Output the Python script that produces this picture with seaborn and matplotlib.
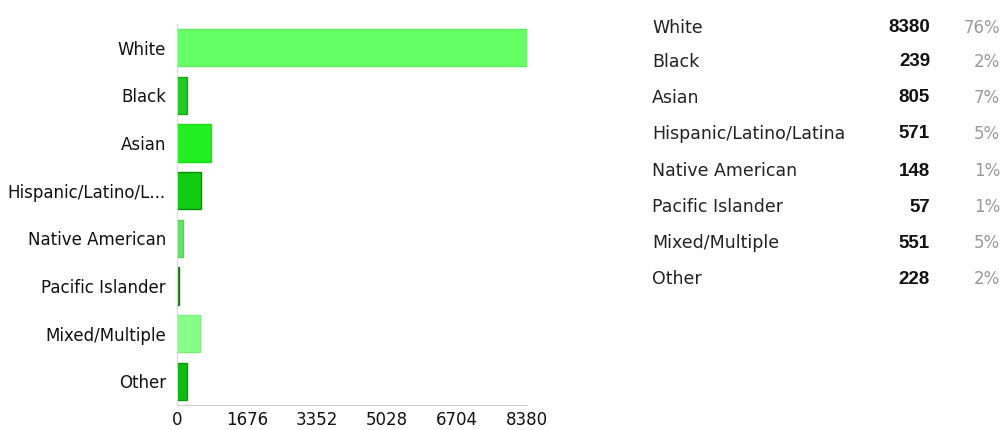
import matplotlib
matplotlib.use("Agg")
import matplotlib.pyplot as plt
import seaborn as sns
import pandas as pd

categories = ["White", "Black", "Asian", "Hispanic/Latino/Latina", "Native American",
              "Pacific Islander", "Mixed/Multiple", "Other"]
axis_labels = ["White", "Black", "Asian", "Hispanic/Latino/L...", "Native American",
               "Pacific Islander", "Mixed/Multiple", "Other"]
counts = [8380, 239, 805, 571, 148, 57, 551, 228]
percents = [76, 2, 7, 5, 1, 1, 5, 2]
x_ticks = [0, 1676, 3352, 5028, 6704, 8380]

colors = ["#66ff66", "#22cc22", "#22ee22", "#11cc11", "#66e066", "#2a8a2a", "#88ff88", "#11bb11"]
edges = ["#5cef5c", "#1aa81a", "#1ddc1d", "#0a8a0a", "#5acc5a", "#1f6f1f", "#7cef7c", "#0d990d"]

sns.set_theme(style="white")
plt.rcParams['font.family'] = ['DejaVu Sans']

df = pd.DataFrame({"cat": categories, "count": counts})

fig = plt.figure(figsize=(10.02, 4.30), dpi=100)
ax = fig.add_axes([177 / 1002, 25 / 430, 350 / 1002, 381 / 430])

sns.barplot(data=df, x="count", y="cat", hue="cat", palette=colors, order=categories,
            hue_order=categories, width=0.78, legend=False, ax=ax, saturation=1)
for patch, ec in zip(ax.patches, edges):
    patch.set_edgecolor(ec)
    patch.set_linewidth(1.0)

ax.set_xlim(0, 8380)
ax.set_xticks(x_ticks)
ax.set_xticklabels([str(t) for t in x_ticks], fontsize=12, color="#111111")
ax.set_yticks(range(len(categories)))
ax.set_yticklabels(axis_labels, fontsize=12, color="#111111")
ax.set_xlabel("")
ax.set_ylabel("")
ax.tick_params(axis="y", length=0, pad=8)
ax.tick_params(axis="x", length=0, pad=4)
for s in ["top", "right"]:
    ax.spines[s].set_visible(False)
ax.spines["left"].set_color("#b8f0b8")
ax.spines["left"].set_linewidth(0.8)
ax.spines["bottom"].set_color("#cccccc")
ax.spines["bottom"].set_linewidth(0.8)

# Table on the right
row_y = [28, 62, 98, 134, 171, 207, 243, 279]
for cat, c, p, y in zip(categories, counts, percents, row_y):
    yy = 1 - y / 430
    fig.text(652 / 1002, yy, cat, fontsize=12.5, color="#222222", va="center", ha="left")
    fig.text(930 / 1002, yy, str(c), fontsize=13.5, color="#111111", va="center", ha="right",
             fontweight="bold", family="Liberation Sans")
    fig.text(1000 / 1002, yy, f"{p}%", fontsize=12, color="#999999", va="center", ha="right")

fig.savefig("out.png", dpi=100)
